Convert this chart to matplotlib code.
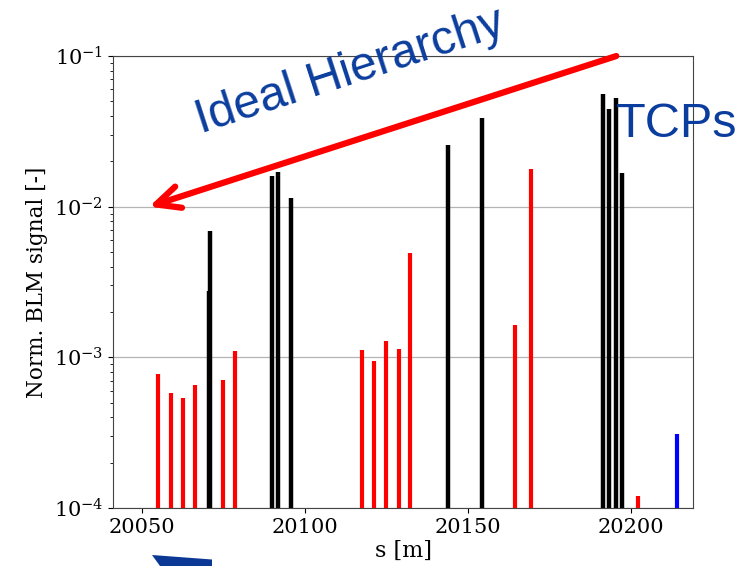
# BLM loss map, normalised signal vs s, with ideal hierarchy arrow
import numpy as np
import matplotlib
matplotlib.use('Agg')
import matplotlib.pyplot as plt
from matplotlib.patches import Polygon

plt.rcParams['font.family'] = 'DejaVu Serif'
plt.rcParams['mathtext.fontset'] = 'dejavuserif'

# %% data
red_s = [20054.9, 20058.9, 20062.6, 20066.3, 20074.8, 20078.5,
         20117.3, 20121.2, 20124.8, 20128.7, 20132.2, 20164.4, 20169.3, 20202.1]
red_v = [7.7e-4, 5.8e-4, 5.4e-4, 6.6e-4, 7.1e-4, 1.1e-3,
         1.12e-3, 9.5e-4, 1.29e-3, 1.14e-3, 4.9e-3, 1.63e-3, 1.78e-2, 1.2e-4]

black_s = [20070.4, 20070.9, 20089.8, 20091.6, 20095.7, 20143.7, 20154.3,
           20191.3, 20193.3, 20195.2, 20197.1]
black_v = [2.77e-3, 6.9e-3, 1.61e-2, 1.7e-2, 1.14e-2, 2.57e-2, 3.87e-2,
           5.6e-2, 4.43e-2, 5.24e-2, 1.68e-2]

blue_s = [20213.9]
blue_v = [3.1e-4]

# arrow end points (s, signal)
arrow_start = (20195.4, 1e-1)
arrow_end = (20052.1, 1e-2)

ymin = 1e-4
slide_blue = '#0b3d9e'

# %% plot
fig = plt.figure(figsize=(7.43, 5.66), dpi=100)
ax = fig.add_axes([0.152, 0.1025, 0.781, 0.7985])

ax.set_yscale('log')
ax.vlines(red_s, ymin, red_v, color='red', lw=3)
ax.vlines(black_s, ymin, black_v, color='black', lw=3.2)
ax.vlines(blue_s, ymin, blue_v, color='blue', lw=3)

ax.set_xlim(20041, 20219)
ax.set_ylim(1e-4, 1e-1)
ax.set_xticks([20050, 20100, 20150, 20200])
ax.set_axisbelow(True)
ax.yaxis.grid(True, which='major', color='#b4b4b4', lw=0.9)
ax.tick_params(labelsize=15)
ax.set_xlabel('s [m]', fontsize=16, labelpad=2)
ax.set_ylabel('Norm. BLM signal [-]', fontsize=15.5)
for sp in ax.spines.values():
    sp.set_color('#444444')

# red "ideal hierarchy" arrow
ax.annotate('', xy=arrow_end, xytext=arrow_start, annotation_clip=False,
            arrowprops=dict(arrowstyle='->, head_length=1.7, head_width=0.8',
                            mutation_scale=10, color='red', lw=4.5,
                            shrinkA=0, shrinkB=0,
                            capstyle='round', joinstyle='round'))

fig.text(0.2705, 0.7633, 'Ideal Hierarchy', family='Liberation Sans', fontsize=34.5,
         color=slide_blue, rotation=18, rotation_mode='anchor',
         ha='left', va='baseline')
fig.text(0.829, 0.758, 'TCPs', family='Liberation Sans', fontsize=35,
         color=slide_blue, ha='left', va='baseline')

# bit of the slide's arrow poking in at the bottom
fig.patches.append(Polygon([(152 / 743, 1 - 555 / 566), (212 / 743, 1 - 559.5 / 566),
                            (212 / 743, 0.0), (160 / 743, 0.0)],
                           closed=True, transform=fig.transFigure,
                           facecolor='#0a3894', edgecolor='none'))

fig.savefig('out.png', dpi=100)
